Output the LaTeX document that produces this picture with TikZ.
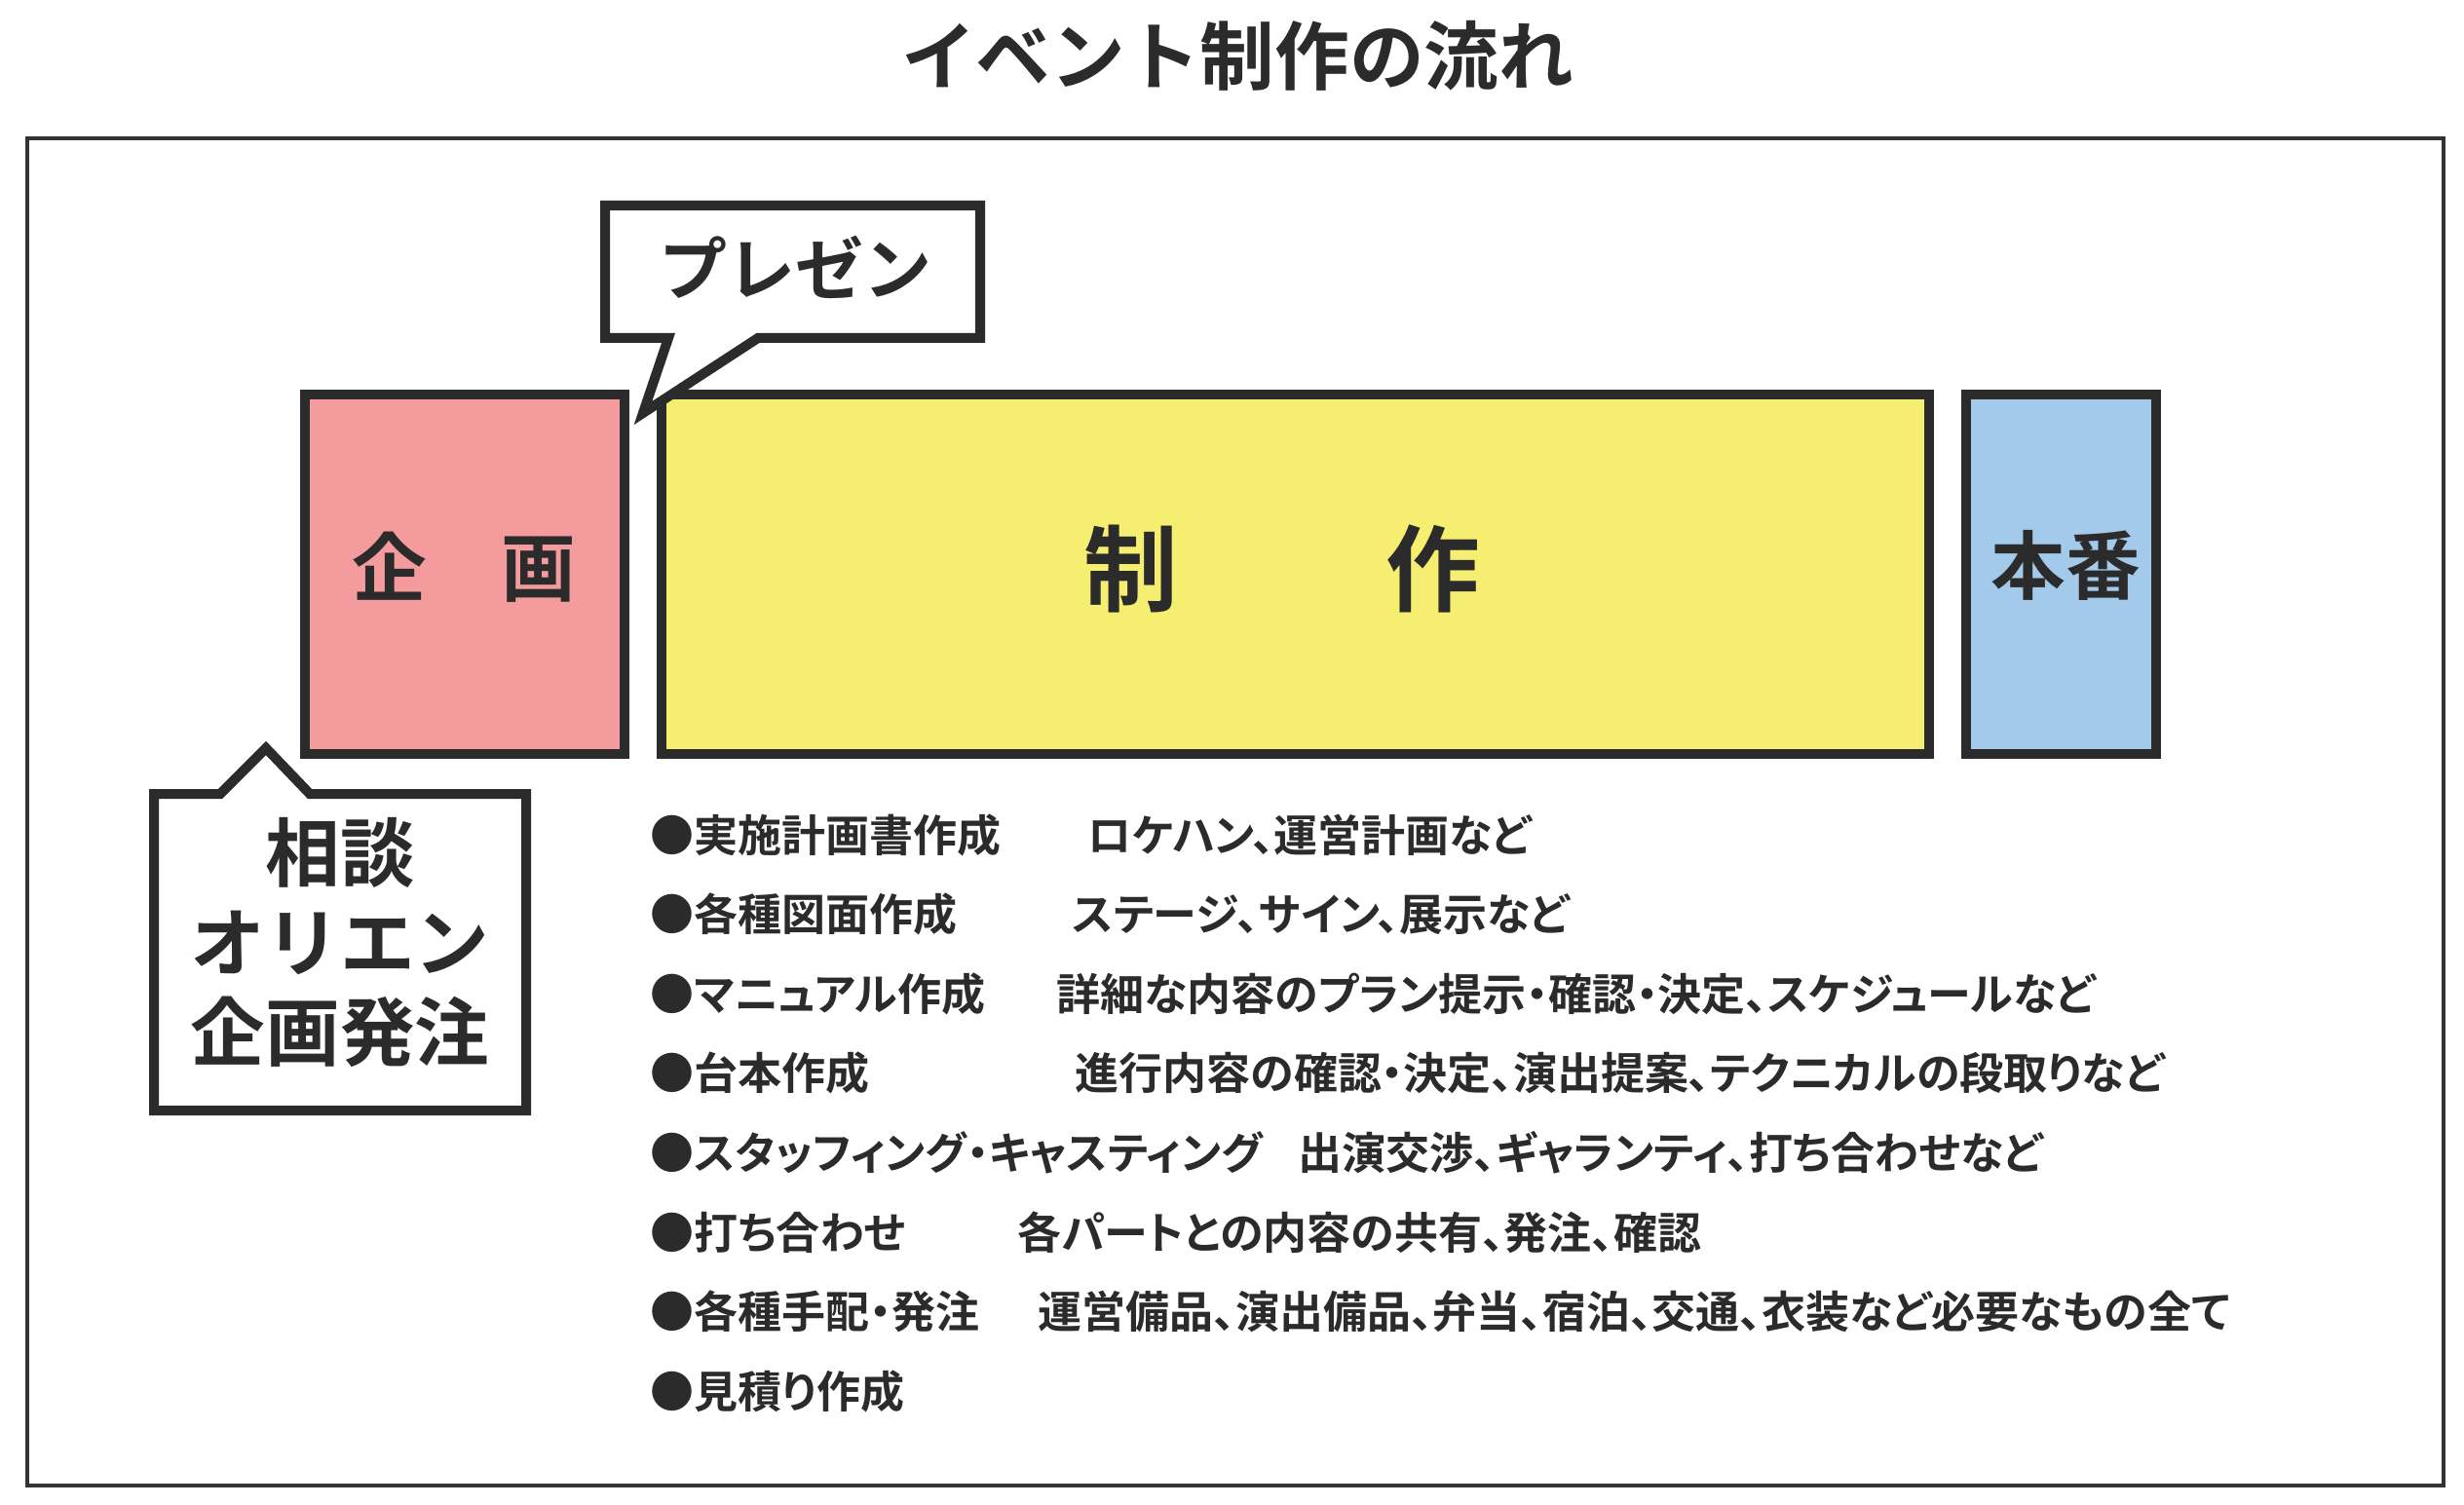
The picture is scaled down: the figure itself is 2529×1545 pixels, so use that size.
\documentclass[tikz,border=0pt]{standalone}
\usepackage{fontspec}
\setmainfont{Noto Sans CJK JP Bold}
\newfontfamily\paltfont{Noto Sans CJK JP Bold}[RawFeature=+palt]
\usepackage{tikz}
\usetikzlibrary{positioning}

\definecolor{ink}{HTML}{2B2B2B}
\definecolor{framegray}{HTML}{333333}
\definecolor{kikakupink}{HTML}{F49B9E}
\definecolor{seisakuyellow}{HTML}{F5EE70}
\definecolor{honbanblue}{HTML}{A4CAEB}

\begin{document}
\begin{tikzpicture}[x=0.3pt,y=-0.3pt,node distance=24.48pt,
      stage node/.style={rectangle,draw=ink,line width=3pt,minimum height=110.7pt,inner sep=0pt},
      bubble/.style={draw=ink,line width=3pt,fill=white},
      label node/.style={text=ink,inner sep=0pt},
      item node/.style={text=ink,inner sep=0pt,text width=200pt,align=left,
        font=\paltfont\fontsize{13.5}{16}\selectfont},
      note node/.style={text=ink,inner sep=0pt,anchor=west,
        font=\paltfont\fontsize{13.5}{16}\selectfont}]

    \useasboundingbox (0,0) rectangle (2529,1545);
    \node[label node, font=\fontsize{23}{28}\selectfont] (title) at (1270,57) {イベント制作の流れ};
    \draw[framegray, line width=1.2pt] (28,142) rectangle (2508,1525);

    % stages
    \node[stage node, fill=kikakupink, minimum width=98.4pt] (kikaku) at (477,589.5) {};
    \node[stage node, fill=seisakuyellow, minimum width=390.3pt] (seisaku) at (1329.5,589.5) {};
    \node[stage node, fill=honbanblue, minimum width=58.5pt] (honban) at (2115.5,589.5) {};
    \node[label node, font=\fontsize{23}{28}\selectfont] (kikaku label) at (476,582) {企　画};
    \node[label node, font=\fontsize{29}{34}\selectfont] (seisaku label) at (1316,584) {制\hspace{64pt}作};
    \node[label node, font=\fontsize{23}{28}\selectfont] (honban label) at (2120,580) {本番};

    % callouts
    \draw[bubble] (621,211) -- (1006,211) -- (1006,347) -- (778,347) -- (660,424)
        -- (686,347) -- (621,347) -- cycle;
    \node[label node, font=\fontsize{21}{26}\selectfont] (presen) at (816,274) {プレゼン};
    \draw[bubble] (158,815) -- (226,815) -- (273,768) -- (318,815) -- (540,815)
        -- (540,1140) -- (158,1140) -- cycle;
    \node[label node, align=center, font=\fontsize{23}{27.6}\selectfont] (soudan) at (349,968)
        {相談\\オリエン\\企画発注};

    % tasks
    \node[item node, anchor=west] (i1) at (667,857) {●実施計画書作成};
    \node[item node] (i2) [below of=i1] {●各種図面作成};
    \node[item node] (i3) [below of=i2] {●マニュアル作成};
    \node[item node] (i4) [below of=i3] {●台本作成};
    \node[item node] (i5) [below of=i4] {●スタッフィング・キャスティング};
    \node[item node] (i6) [below of=i5] {●打ち合わせ};
    \node[item node] (i7) [below of=i6] {●各種手配・発注};
    \node[item node] (i8) [below of=i7] {●見積り作成};

    \node[note node] (n1) at (1116,0 |- i1) {ロケハン、運営計画など};
    \node[note node] (n2) at (1100,0 |- i2) {ステージ、サイン、展示など};
    \node[note node] (n3) at (1084,0 |- i3) {詳細な内容のプラン提示・確認・決定、スケジュールなど};
    \node[note node] (n4) at (1103,0 |- i4) {進行内容の確認・決定、演出提案、テクニカルの段取りなど};
    \node[note node] (n5) at (1332,0 |- i5) {出演交渉、ギャランティ、打ち合わせなど};
    \node[note node] (n6) at (1044,0 |- i6) {各パートとの内容の共有、発注、確認};
    \node[note node] (n7) at (1065,0 |- i7) {運営備品、演出備品、弁当、宿泊、交通、衣装など必要なもの全て};
\end{tikzpicture}
\end{document}
